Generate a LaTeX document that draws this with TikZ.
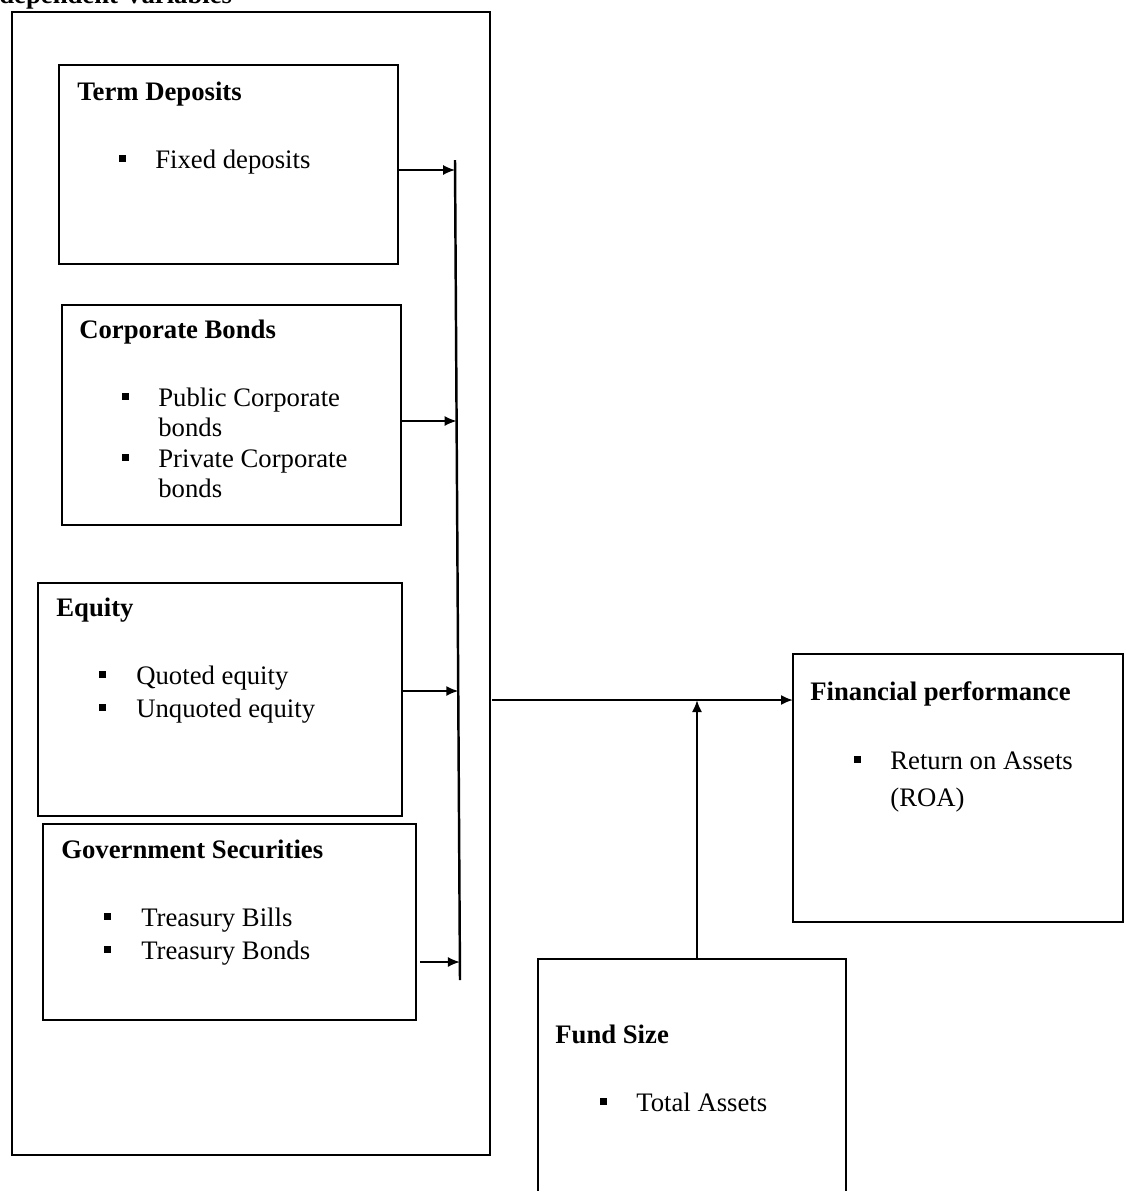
\documentclass[tikz,border=0pt]{standalone}
\usepackage{fontspec}
\setmainfont{Liberation Serif}
\usetikzlibrary{arrows.meta}
\tikzset{
  box/.style={draw, line width=1.2pt, inner sep=0pt, outer sep=0pt, anchor=north west},
  ttl/.style={anchor=base west, inner sep=0pt, font=\fontsize{15.2}{18}\selectfont\bfseries},
  itm/.style={anchor=base west, inner sep=0pt, font=\fontsize{15.2}{18}\selectfont},
  bul/.style={fill=black, inner sep=0pt, minimum size=0.14cm},
  arr/.style={line width=0.9pt, -{Latex[length=0.24cm,width=0.2cm]}},
  vline/.style={line width=1.4pt}
}
\begin{document}
\begin{tikzpicture}[x=0.02cm,y=-0.02cm]
\useasboundingbox (0,0) rectangle (1125,1191);
\fill[white] (0,0) rectangle (1125,1191);

\node[ttl] (head) at (-1,3) {dependent Variables};

% outer box
\node[box, minimum width=9.56cm, minimum height=22.86cm] (outer) at (12,12) {};

% Term deposits
\node[box, minimum width=6.78cm, minimum height=3.98cm] (td) at (59,65) {};
\node[ttl] (tdt) at (77,100) {Term Deposits};
\node[bul] (tdb1) at (122,158) {};
\node[itm] (tdi1) at (155,168) {Fixed deposits};

% Corporate bonds
\node[box, minimum width=6.78cm, minimum height=4.40cm] (cb) at (62,305) {};
\node[ttl] (cbt) at (79,338) {Corporate Bonds};
\node[bul] (cbb1) at (125,396) {};
\node[itm] (cbi1) at (158,406) {Public Corporate};
\node[itm] (cbi2) at (158,436) {bonds};
\node[bul] (cbb2) at (125,457) {};
\node[itm] (cbi3) at (158,467) {Private Corporate};
\node[itm] (cbi4) at (158,497) {bonds};

% Equity
\node[box, minimum width=7.28cm, minimum height=4.66cm] (eq) at (38,583) {};
\node[ttl] (eqt) at (56,616) {Equity};
\node[bul] (eqb1) at (102,674) {};
\node[itm] (eqi1) at (136,684) {Quoted equity};
\node[bul] (eqb2) at (102,707) {};
\node[itm] (eqi2) at (136,717) {Unquoted equity};

% Government securities
\node[box, minimum width=7.46cm, minimum height=3.92cm] (gs) at (43,824) {};
\node[ttl] (gst) at (61,858) {Government Securities};
\node[bul] (gsb1) at (107,916) {};
\node[itm] (gsi1) at (141,926) {Treasury Bills};
\node[bul] (gsb2) at (107,949) {};
\node[itm] (gsi2) at (141,959) {Treasury Bonds};

% Financial performance
\node[box, minimum width=6.60cm, minimum height=5.36cm] (fp) at (793,654) {};
\node[ttl] (fpt) at (810,700) {Financial performance};
\node[bul] (fpb1) at (857,759) {};
\node[itm] (fpi1) at (890,769) {Return on Assets};
\node[itm] (fpi2) at (890,806) {(ROA)};

% Fund size
\node[box, minimum width=6.16cm, minimum height=5.02cm] (fs) at (538,959) {};
\node[ttl] (fst) at (555,1043) {Fund Size};
\node[bul] (fsb1) at (603,1101) {};
\node[itm] (fsi1) at (636,1111) {Total Assets};

% collector line
\coordinate (vtop) at (455,160);
\coordinate (vbot) at (460,980);
\draw[vline] (vtop) -- (vbot);
\coordinate (a1) at (455.1,170);
\coordinate (a2) at (456.6,421);
\coordinate (a3) at (458.3,691);
\coordinate (a4) at (459.9,962);
\draw[arr] (td.east |- a1) -- (a1);
\draw[arr] (cb.east |- a2) -- (a2);
\draw[arr] (eq.east |- a3) -- (a3);
\draw[arr] ([xshift=0.08cm]gs.east |- a4) -- (a4);

% main arrow
\coordinate (m) at (600,700);
\draw[arr, line width=1.1pt] ([xshift=0.04cm]outer.east |- m) -- (fp.west |- m);
\coordinate (j) at (697,700);
\draw[arr, line width=1.1pt] (fs.north -| j) -- (j);
\end{tikzpicture}
\end{document}
